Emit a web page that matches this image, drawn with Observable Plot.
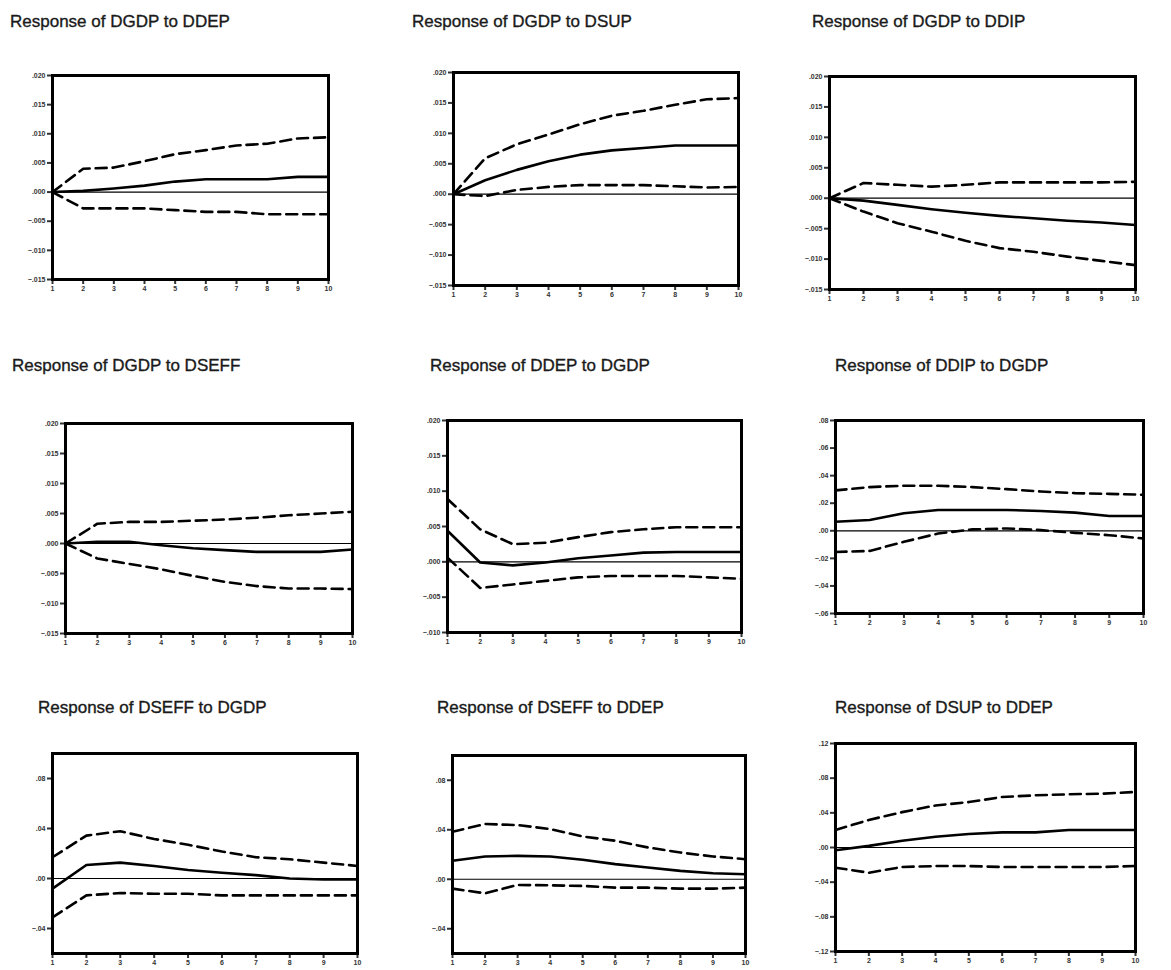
<!DOCTYPE html>
<html><head><meta charset="utf-8">
<script src="https://cdn.jsdelivr.net/npm/d3@7"></script>
<script src="https://cdn.jsdelivr.net/npm/@observablehq/plot@0.6"></script>
<style>
body{margin:0;background:#fff;}
#wrap{position:relative;width:1171px;height:970px;overflow:hidden;font-family:"Liberation Sans",Arial,sans-serif;}
.title{position:absolute;font-size:17px;color:#1a1a1a;white-space:nowrap;line-height:20px;-webkit-text-stroke:0.35px #1a1a1a;}
.panel{position:absolute;}
</style></head><body><div id="wrap"></div>
<script>
const periods = [1,2,3,4,5,6,7,8,9,10];

const titles = [
  "Response of DGDP to DDEP", "Response of DGDP to DSUP", "Response of DGDP to DDIP",
  "Response of DGDP to DSEFF", "Response of DDEP to DGDP", "Response of DDIP to DGDP",
  "Response of DSEFF to DGDP", "Response of DSEFF to DDEP", "Response of DSUP to DDEP"
];

// Response (solid) and ±2 S.E. bands (dashed)
const dgdp_ddep_mid = [0, 0.0002, 0.0006, 0.0011, 0.0018, 0.0022, 0.0022, 0.0022, 0.0026, 0.0026];
const dgdp_ddep_hi  = [0, 0.0040, 0.0042, 0.0053, 0.0065, 0.0072, 0.0080, 0.0083, 0.0092, 0.0094];
const dgdp_ddep_lo  = [0, -0.0028, -0.0028, -0.0028, -0.0031, -0.0034, -0.0034, -0.0038, -0.0038, -0.0038];

const dgdp_dsup_mid = [0, 0.0023, 0.0040, 0.0054, 0.0065, 0.0072, 0.0076, 0.0080, 0.0080, 0.0080];
const dgdp_dsup_hi  = [0, 0.0059, 0.0082, 0.0098, 0.0115, 0.0129, 0.0137, 0.0147, 0.0156, 0.0158];
const dgdp_dsup_lo  = [0, -0.0003, 0.0007, 0.0012, 0.0015, 0.0015, 0.0015, 0.0013, 0.0011, 0.0012];

const dgdp_ddip_mid = [0, -0.0004, -0.0011, -0.0018, -0.0024, -0.0029, -0.0033, -0.0037, -0.0040, -0.0044];
const dgdp_ddip_hi  = [0, 0.0025, 0.0022, 0.0019, 0.0022, 0.0026, 0.0026, 0.0026, 0.0026, 0.0027];
const dgdp_ddip_lo  = [0, -0.0022, -0.0041, -0.0055, -0.0070, -0.0082, -0.0088, -0.0096, -0.0103, -0.0110];

const dgdp_dseff_mid = [0, 0.0003, 0.0003, -0.0003, -0.0008, -0.0011, -0.0014, -0.0014, -0.0014, -0.0010];
const dgdp_dseff_hi  = [0, 0.0033, 0.0036, 0.0036, 0.0038, 0.0040, 0.0043, 0.0047, 0.0050, 0.0053];
const dgdp_dseff_lo  = [0, -0.0025, -0.0034, -0.0043, -0.0054, -0.0064, -0.0071, -0.0075, -0.0075, -0.0076];

const ddep_dgdp_mid = [0.0044, -0.0001, -0.0005, -0.0001, 0.0005, 0.0009, 0.0013, 0.0014, 0.0014, 0.0014];
const ddep_dgdp_hi  = [0.0089, 0.0046, 0.0025, 0.0027, 0.0035, 0.0042, 0.0046, 0.0049, 0.0049, 0.0049];
const ddep_dgdp_lo  = [0.0006, -0.0037, -0.0032, -0.0027, -0.0022, -0.0020, -0.0020, -0.0020, -0.0022, -0.0024];

const ddip_dgdp_mid = [0.0066, 0.0078, 0.0127, 0.0151, 0.0151, 0.0151, 0.0144, 0.0132, 0.0107, 0.0107];
const ddip_dgdp_hi  = [0.0293, 0.0317, 0.0327, 0.0327, 0.0317, 0.0302, 0.0285, 0.0273, 0.0268, 0.0261];
const ddip_dgdp_lo  = [-0.0154, -0.0146, -0.0080, -0.0020, 0.0010, 0.0017, 0.0005, -0.0015, -0.0032, -0.0056];

const dseff_dgdp_mid = [-0.0081, 0.0108, 0.0127, 0.0100, 0.0068, 0.0046, 0.0027, 0.0000, -0.0008, -0.0008];
const dseff_dgdp_hi  = [0.0170, 0.0343, 0.0378, 0.0316, 0.0270, 0.0216, 0.0170, 0.0154, 0.0127, 0.0100];
const dseff_dgdp_lo  = [-0.0311, -0.0135, -0.0116, -0.0122, -0.0122, -0.0135, -0.0135, -0.0135, -0.0135, -0.0135];

const dseff_ddep_mid = [0.0149, 0.0184, 0.0189, 0.0184, 0.0157, 0.0122, 0.0095, 0.0068, 0.0049, 0.0041];
const dseff_ddep_hi  = [0.0384, 0.0446, 0.0438, 0.0405, 0.0346, 0.0311, 0.0257, 0.0216, 0.0184, 0.0162];
const dseff_ddep_lo  = [-0.0076, -0.0114, -0.0046, -0.0049, -0.0054, -0.0068, -0.0068, -0.0076, -0.0076, -0.0068];

const dsup_ddep_mid = [-0.0031, 0.0019, 0.0078, 0.0124, 0.0155, 0.0175, 0.0175, 0.0202, 0.0202, 0.0202];
const dsup_ddep_hi  = [0.0202, 0.0318, 0.0408, 0.0485, 0.0524, 0.0583, 0.0602, 0.0614, 0.0621, 0.0641];
const dsup_ddep_lo  = [-0.0233, -0.0291, -0.0225, -0.0214, -0.0214, -0.0225, -0.0225, -0.0225, -0.0225, -0.0214];

// y-axis tick values
const ticksA = [-0.015, -0.010, -0.005, 0, 0.005, 0.010, 0.015, 0.020];
const ticksB = [-0.010, -0.005, 0, 0.005, 0.010, 0.015, 0.020];
const ticksC = [-0.06, -0.04, -0.02, 0, 0.02, 0.04, 0.06, 0.08];
const ticksD = [-0.04, 0, 0.04, 0.08];
const ticksE = [-0.12, -0.08, -0.04, 0, 0.04, 0.08, 0.12];

const fmt = (dec) => (v) => d3.format("." + dec + "f")(v).replace("0.", ".");

// layout: frame box [left, right, top, bottom], title [x, y]
const panels = [
  {mid: dgdp_ddep_mid, hi: dgdp_ddep_hi, lo: dgdp_ddep_lo, dom: [-0.015, 0.020], ticks: ticksA, dec: 3, box: [52, 328, 75, 279], t: [10, 12]},
  {mid: dgdp_dsup_mid, hi: dgdp_dsup_hi, lo: dgdp_dsup_lo, dom: [-0.015, 0.020], ticks: ticksA, dec: 3, box: [453, 738, 72, 285], t: [412, 12]},
  {mid: dgdp_ddip_mid, hi: dgdp_ddip_hi, lo: dgdp_ddip_lo, dom: [-0.015, 0.020], ticks: ticksA, dec: 3, box: [829, 1135, 76, 289], t: [812, 12]},
  {mid: dgdp_dseff_mid, hi: dgdp_dseff_hi, lo: dgdp_dseff_lo, dom: [-0.015, 0.020], ticks: ticksA, dec: 3, box: [65, 352, 423, 633], t: [12, 356]},
  {mid: ddep_dgdp_mid, hi: ddep_dgdp_hi, lo: ddep_dgdp_lo, dom: [-0.010, 0.020], ticks: ticksB, dec: 3, box: [447, 741, 420, 632], t: [430, 356]},
  {mid: ddip_dgdp_mid, hi: ddip_dgdp_hi, lo: ddip_dgdp_lo, dom: [-0.06, 0.08], ticks: ticksC, dec: 2, box: [835, 1143, 420, 613], t: [835, 356]},
  {mid: dseff_dgdp_mid, hi: dseff_dgdp_hi, lo: dseff_dgdp_lo, dom: [-0.06, 0.10], ticks: ticksD, dec: 2, box: [52, 357, 753, 953], t: [38, 698]},
  {mid: dseff_ddep_mid, hi: dseff_ddep_hi, lo: dseff_ddep_lo, dom: [-0.06, 0.10], ticks: ticksD, dec: 2, box: [452, 745, 755, 953], t: [437, 698]},
  {mid: dsup_ddep_mid, hi: dsup_ddep_hi, lo: dsup_ddep_lo, dom: [-0.12, 0.12], ticks: ticksE, dec: 2, box: [835, 1135, 743, 951], t: [835, 698]}
];

const wrap = document.getElementById("wrap");
const ml = 40, mr = 8, mt = 8, mb = 18;

panels.forEach((p, k) => {
  const [L, R, T, B] = p.box;
  const rows = (arr) => periods.map((t, i) => ({t, v: arr[i]}));
  const chart = Plot.plot({
    width: (R - L) + ml + mr,
    height: (B - T) + mt + mb,
    marginLeft: ml, marginRight: mr, marginTop: mt, marginBottom: mb,
    style: {fontFamily: "Liberation Sans, Arial, sans-serif", fontSize: "7px", color: "#333", background: "transparent"},
    x: {domain: [1, 10]},
    y: {domain: p.dom},
    marks: [
      Plot.ruleY([0], {stroke: "#000", strokeWidth: 1.2}),
      Plot.line(rows(p.hi), {x: "t", y: "v", stroke: "#000", strokeWidth: 2.6, strokeDasharray: "11,6"}),
      Plot.line(rows(p.lo), {x: "t", y: "v", stroke: "#000", strokeWidth: 2.6, strokeDasharray: "11,6"}),
      Plot.line(rows(p.mid), {x: "t", y: "v", stroke: "#000", strokeWidth: 2.6}),
      Plot.axisX({ticks: periods, tickFormat: (d) => String(d), tickSize: 5, tickPadding: 2, strokeWidth: 2, label: null, fontWeight: "bold"}),
      Plot.axisY({ticks: p.ticks, tickFormat: fmt(p.dec), tickSize: 5, tickPadding: 2, strokeWidth: 2, label: null, fontWeight: "bold"}),
      Plot.frame({stroke: "#000", strokeWidth: 3})
    ]
  });
  chart.classList.add("panel");
  chart.style.left = (L - ml) + "px";
  chart.style.top = (T - mt) + "px";
  wrap.appendChild(chart);

  const title = document.createElement("div");
  title.className = "title";
  title.textContent = titles[k];
  title.style.left = p.t[0] + "px";
  title.style.top = p.t[1] + "px";
  wrap.appendChild(title);
});
</script>
</body></html>
